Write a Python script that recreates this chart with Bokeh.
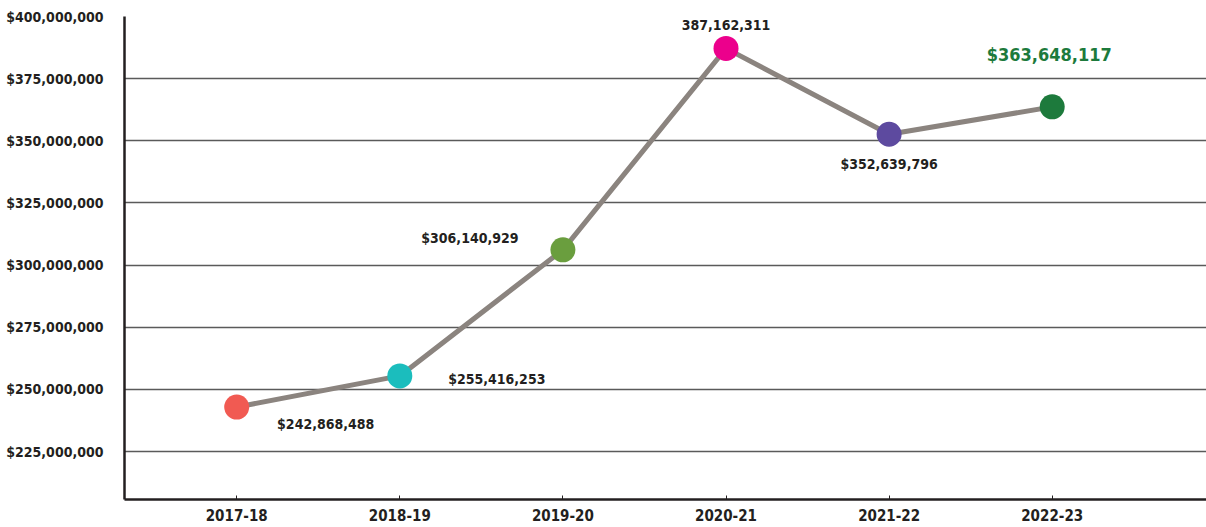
from bokeh.plotting import figure
from bokeh.models import ColumnDataSource, FixedTicker, NumeralTickFormatter, Range1d
from bokeh.core.properties import value
from bokeh.embed import file_html
from bokeh.resources import INLINE

# ---- data ----
years = ["2017-18", "2018-19", "2019-20", "2020-21", "2021-22", "2022-23"]
amounts = [242868488, 255416253, 306140929, 387162311, 352639796, 363648117]
label_texts = ["$242,868,488", "$255,416,253", "$306,140,929", "387,162,311",
               "$352,639,796", "$363,648,117"]
y_ticks = [225000000, 250000000, 275000000, 300000000, 325000000,
           350000000, 375000000, 400000000]

# ---- styles ----
marker_colors = ["#f15a52", "#1bbdbd", "#6a9e3e", "#ec008c", "#5d4a9f", "#1d7a3c"]
label_colors = ["#231f20", "#231f20", "#231f20", "#231f20", "#231f20", "#1d7a3c"]
label_sizes = ["14px", "14px", "14px", "14px", "14px", "18px"]
label_dx = [89, 97, -93, 0, 0, -3]
label_dy = [17, 3, -12, -23, 30, -52]   # screen pixels, positive = down
FONT = "DejaVu Sans Condensed"
TEXT = "#231f20"

idx = list(range(len(years)))

p = figure(width=1206, height=527, output_backend="svg", toolbar_location=None,
           x_range=Range1d(-0.688, 5.946), y_range=Range1d(205700000, 400000000),
           min_border_left=124, min_border_right=0, min_border_top=16,
           min_border_bottom=28)
p.outline_line_color = None
p.background_fill_color = "white"
p.border_fill_color = "white"

src = ColumnDataSource(dict(x=idx, y=amounts, color=marker_colors, text=label_texts,
                            tcolor=label_colors, tsize=label_sizes,
                            dx=label_dx, dy=label_dy))

p.line("x", "y", source=src, line_color="#8b847f", line_width=5)
p.scatter("x", "y", source=src, size=25, fill_color="color", line_color=None)
p.text("x", "y", text="text", source=src, x_offset="dx", y_offset="dy",
       text_align="center", text_baseline="middle", text_font=value(FONT),
       text_font_style="bold", text_font_size="tsize", text_color="tcolor")

# axes
p.xaxis.ticker = FixedTicker(ticks=idx)
p.xaxis.major_label_overrides = {i: y for i, y in zip(idx, years)}
p.xaxis.axis_line_color = TEXT
p.xaxis.axis_line_width = 2.5
p.xaxis.major_tick_in = 4
p.xaxis.major_tick_out = 0
p.xaxis.major_tick_line_color = TEXT
p.xaxis.minor_tick_line_color = None
p.xaxis.major_label_text_font = FONT
p.xaxis.major_label_text_font_style = "bold"
p.xaxis.major_label_text_font_size = "15px"
p.xaxis.major_label_text_color = TEXT
p.xaxis.major_label_standoff = 9

p.yaxis.ticker = FixedTicker(ticks=y_ticks)
p.yaxis.formatter = NumeralTickFormatter(format="$0,0")
p.yaxis.axis_line_color = TEXT
p.yaxis.axis_line_width = 2.5
p.yaxis.major_tick_in = 0
p.yaxis.major_tick_out = 0
p.yaxis.minor_tick_line_color = None
p.yaxis.major_label_text_font = FONT
p.yaxis.major_label_text_font_style = "bold"
p.yaxis.major_label_text_font_size = "14px"
p.yaxis.major_label_text_color = TEXT
p.yaxis.major_label_standoff = 21

p.xgrid.grid_line_color = None
p.ygrid.ticker = FixedTicker(ticks=y_ticks)
p.ygrid.grid_line_color = "#5a5a5a"
p.ygrid.grid_line_width = 1.3

open("out.html", "w").write(file_html(p, INLINE))
